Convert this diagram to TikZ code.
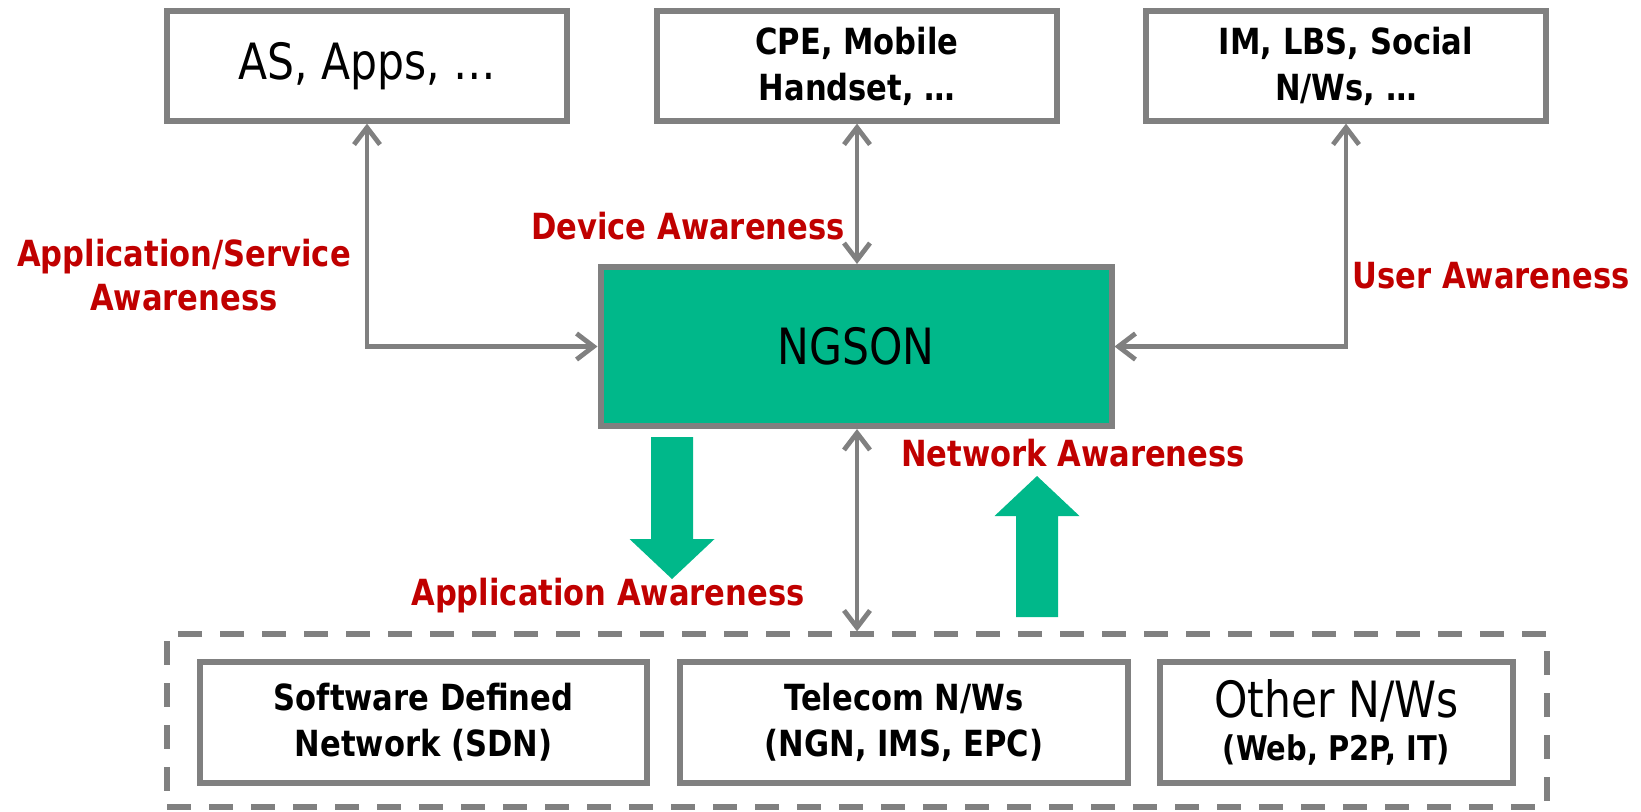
\documentclass[tikz,border=0pt]{standalone}
\usepackage{fontspec}
\setmainfont{DejaVu Sans}[FakeStretch=0.85]
\usetikzlibrary{arrows.meta}
\definecolor{linegray}{RGB}{128,128,128}
\definecolor{ngsongreen}{RGB}{0,184,138}
\definecolor{awared}{RGB}{192,0,0}
\begin{document}
\begin{tikzpicture}[x=0.5pt,y=-0.5pt,
  framebox/.style={draw=linegray, line width=2.6pt, fill=white, inner sep=0pt, align=center},
  topbox/.style={framebox, minimum width=200pt, minimum height=55pt},
  netbox/.style={framebox, minimum height=60.5pt},
  bigtext/.style={font=\fontsize{25}{30}\selectfont},
  boldtext/.style={font=\bfseries\fontsize{18}{23}\selectfont},
  aware/.style={text=awared, font=\bfseries\fontsize{18}{22}\selectfont, align=center, inner sep=0pt},
  biarrow/.style={draw=linegray, line width=2.4pt,
    {Straight Barb[length=8.5pt,width=13pt]}-{Straight Barb[length=8.5pt,width=13pt]}},
  blockarrow/.style={fill=ngsongreen}]
\useasboundingbox (0,0) rectangle (1641,811);

% upper row of boxes
\node[topbox, bigtext] (as) at (367,66) {AS, Apps, …};
\node[topbox, boldtext] (cpe) at (857,66) {CPE, Mobile\\Handset, …};
\node[topbox, boldtext] (im) at (1346,66) {IM, LBS, Social\\N/Ws, …};

% central service overlay node
\node[draw=linegray, line width=3pt, fill=ngsongreen, minimum width=255.5pt,
      minimum height=79.5pt, inner sep=0pt, bigtext] (ngson) at (856,346.5) {NGSON};

% network layer
\node[draw=linegray, line width=2.6pt, dash pattern=on 12pt off 9pt,
      minimum width=690pt, minimum height=86.5pt, inner sep=0pt] (nets) at (857,720.5) {};
\node[netbox, boldtext, minimum width=223.5pt] (sdn) at (423.5,722.5) {Software Defined\\Network (SDN)};
\node[netbox, boldtext, minimum width=224pt] (tel) at (904,722.5) {Telecom N/Ws\\(NGN, IMS, EPC)};
\node[netbox, minimum width=176.5pt] (oth) at (1336.5,722.5)
  {\fontsize{25}{30}\selectfont Other N/Ws\\[5pt]\bfseries\fontsize{17}{20.5}\selectfont (Web, P2P, IT)};

% awareness connectors
\draw[biarrow] (as.south) |- (ngson.west);
\draw[biarrow] (cpe.south) -- (ngson.north -| cpe.south);
\draw[biarrow] (im.south) |- (ngson.east);
\draw[biarrow] (ngson.south -| nets.north) -- (nets.north);

% block arrows between NGSON and the networks
\fill[blockarrow] (651,437) -- (693,437) -- (693,539) -- (714.5,539) -- (672,579)
  -- (629.5,539) -- (651,539) -- cycle;
\fill[blockarrow] (1016,617) -- (1058,617) -- (1058,516) -- (1079.5,516) -- (1037,476)
  -- (994.5,516) -- (1016,516) -- cycle;

% labels
\node[aware] (lapp) at (184,275) {Application/Service\\Awareness};
\node[aware] (ldev) at (688,226) {Device Awareness};
\node[aware] (lusr) at (1491,276) {User Awareness};
\node[aware] (lnet) at (1073,453) {Network Awareness};
\node[aware] (lapa) at (608,596) {Application Awareness};
\end{tikzpicture}
\end{document}
